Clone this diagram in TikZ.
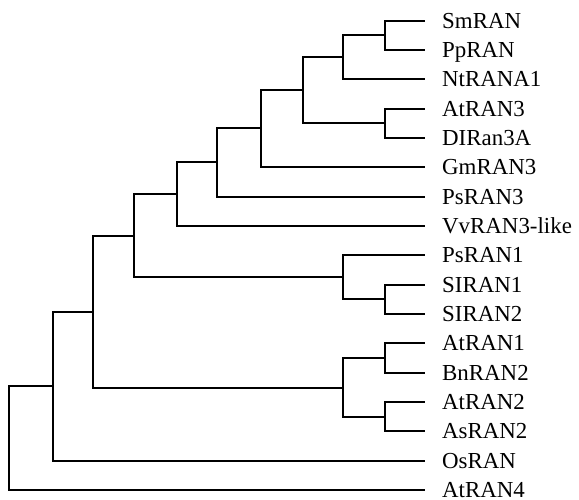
\documentclass[tikz,border=0pt]{standalone}
\usepackage{fontspec}
\setmainfont{Liberation Serif}
\usepackage{tikz}
\newcommand{\leaf}[3]{\coordinate (#1) at (425,#2);
\node[anchor=base west,inner sep=0pt] (#1L) at (442,#2+7.2) {#3};}
\tikzset{branch/.style={line width=1.9pt}}
\begin{document}
\begin{tikzpicture}[x=1pt,y=-1pt]
\useasboundingbox (0,0) rectangle (579,500);
\fontsize{22.9}{27}\selectfont
\leaf{smran}{21}{SmRAN}
\leaf{ppran}{50}{PpRAN}
\leaf{ntrana}{79}{NtRANA1}
\leaf{atranC}{109}{AtRAN3}
\leaf{diran}{138}{DIRan3A}
\leaf{gmran}{167}{GmRAN3}
\leaf{psranC}{197}{PsRAN3}
\leaf{vvran}{226}{VvRAN3-like}
\leaf{psranA}{255}{PsRAN1}
\leaf{siranA}{285}{SIRAN1}
\leaf{siranB}{314}{SIRAN2}
\leaf{atranA}{343}{AtRAN1}
\leaf{bnran}{373}{BnRAN2}
\leaf{atranB}{402}{AtRAN2}
\leaf{asran}{431}{AsRAN2}
\leaf{osran}{461}{OsRAN}
\leaf{atranD}{490}{AtRAN4}
% inner nodes
\coordinate (j1) at (385,35);
\coordinate (j2) at (343,57);
\coordinate (j3) at (385,123);
\coordinate (j4) at (303,90);
\coordinate (j5) at (261,128);
\coordinate (j6) at (217,162);
\coordinate (j7) at (177,194);
\coordinate (j8) at (385,299);
\coordinate (j9) at (343,277);
\coordinate (j10) at (134,236);
\coordinate (j11) at (385,358);
\coordinate (j12) at (385,417);
\coordinate (j13) at (343,388);
\coordinate (j14) at (93,312);
\coordinate (j15) at (53,386);
\coordinate (root) at (9,438);
\draw[branch] (j1) |- (smran) (j1) |- (ppran);
\draw[branch] (j2) |- (j1) (j2) |- (ntrana);
\draw[branch] (j3) |- (atranC) (j3) |- (diran);
\draw[branch] (j4) |- (j2) (j4) |- (j3);
\draw[branch] (j5) |- (j4) (j5) |- (gmran);
\draw[branch] (j6) |- (j5) (j6) |- (psranC);
\draw[branch] (j7) |- (j6) (j7) |- (vvran);
\draw[branch] (j8) |- (siranA) (j8) |- (siranB);
\draw[branch] (j9) |- (psranA) (j9) |- (j8);
\draw[branch] (j10) |- (j7) (j10) |- (j9);
\draw[branch] (j11) |- (atranA) (j11) |- (bnran);
\draw[branch] (j12) |- (atranB) (j12) |- (asran);
\draw[branch] (j13) |- (j11) (j13) |- (j12);
\draw[branch] (j14) |- (j10) (j14) |- (j13);
\draw[branch] (j15) |- (j14) (j15) |- (osran);
\draw[branch] (root) |- (j15) (root) |- (atranD);
\end{tikzpicture}
\end{document}
